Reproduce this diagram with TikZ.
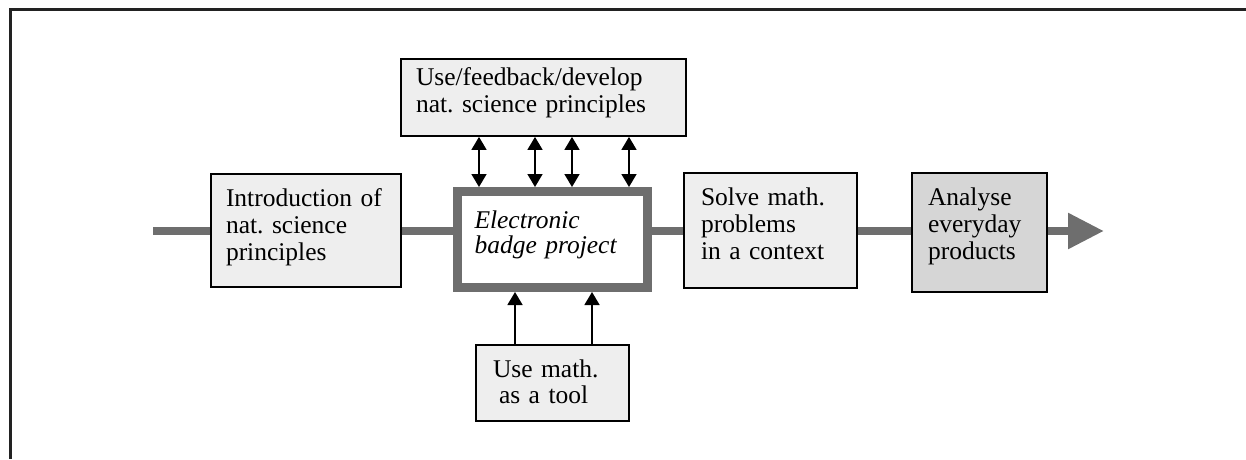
\documentclass[tikz,border=0pt]{standalone}
\usepackage{fontspec}
\setmainfont{Liberation Serif}
\usetikzlibrary{arrows.meta}
\definecolor{flowgray}{HTML}{6E6E6E}
\definecolor{lightbox}{HTML}{EEEEEE}
\definecolor{darkbox}{HTML}{D6D6D6}
\definecolor{framecol}{HTML}{222222}
\frenchspacing
\tikzset{
  box/.style={draw=black, line width=1.8pt, fill=lightbox, align=left,
    inner ysep=0pt, text height=17pt, font=\fontsize{25.5}{27}\selectfont},
  flow/.style={draw=flowgray, line width=8.5pt},
  dbl/.style={line width=1.6pt, {Triangle[length=13pt,width=15pt]}-{Triangle[length=13pt,width=15pt]}},
  up/.style={line width=1.6pt, -{Triangle[length=13pt,width=15pt]}},
}
\begin{document}
\begin{tikzpicture}[x=1pt,y=-1pt]
\useasboundingbox (0,0) rectangle (1246,459);
% outer frame
\draw[framecol, line width=3pt] (1246,9.7) -- (10.8,9.7) -- (10.8,459);

\node[box, minimum width=190pt, minimum height=113pt, inner xsep=15pt, text width=160pt, text depth=66pt]
  (intro) at (306,230.5) {Introduction of\\nat. science\\principles};
\node[box, minimum width=285pt, minimum height=77pt, inner xsep=15pt, text width=255pt, text depth=42pt]
  (feedback) at (543.5,97.5) {Use/feedback/develop\\nat. science principles};
\node[box, draw=flowgray, line width=9pt, fill=white, minimum width=190pt, minimum height=96pt,
  inner xsep=17pt, text width=156pt, text depth=40pt, font=\fontsize{25.5}{25}\selectfont\itshape]
  (badge) at (552.5,239.5) {Electronic\\badge project};
\node[box, minimum width=173pt, minimum height=115pt, inner xsep=17pt, text width=139pt, text depth=68pt]
  (solve) at (770.5,230.5) {Solve math.\\problems\\in a context};
\node[box, fill=darkbox, minimum width=135pt, minimum height=119pt, inner xsep=16pt, text width=103pt, text depth=72pt]
  (analyse) at (979.5,232.5) {Analyse\\everyday\\products};
\node[box, minimum width=153pt, minimum height=76pt, inner xsep=17pt, text width=119pt, text depth=29pt,
  font=\fontsize{25.5}{26}\selectfont]
  (math) at (552.5,383) {Use math.\\\hspace*{6pt}as a tool};

% main flow line
\coordinate (start) at (153,231);
\coordinate (end) at (1104,231);
\draw[flow] (start) -- (start -| intro.west);
\draw[flow] (intro.east |- start) -- (start -| badge.west);
\draw[flow] (badge.east |- start) -- (start -| solve.west);
\draw[flow] (solve.east |- start) -- (start -| analyse.west);
\draw[flow, -{Triangle[length=36pt,width=34pt]}] (analyse.east |- start) -- (end);

% double arrows between feedback box and badge
\coordinate (a1) at (479,0);
\coordinate (a2) at (535,0);
\coordinate (a3) at (572,0);
\coordinate (a4) at (629,0);
\foreach \c in {a1,a2,a3,a4}
  \draw[dbl] (feedback.south -| \c) -- (badge.north -| \c);

% arrows from math box to badge
\coordinate (b1) at (515,0);
\coordinate (b2) at (592,0);
\foreach \c in {b1,b2}
  \draw[up] (math.north -| \c) -- (badge.south -| \c);
\end{tikzpicture}
\end{document}
